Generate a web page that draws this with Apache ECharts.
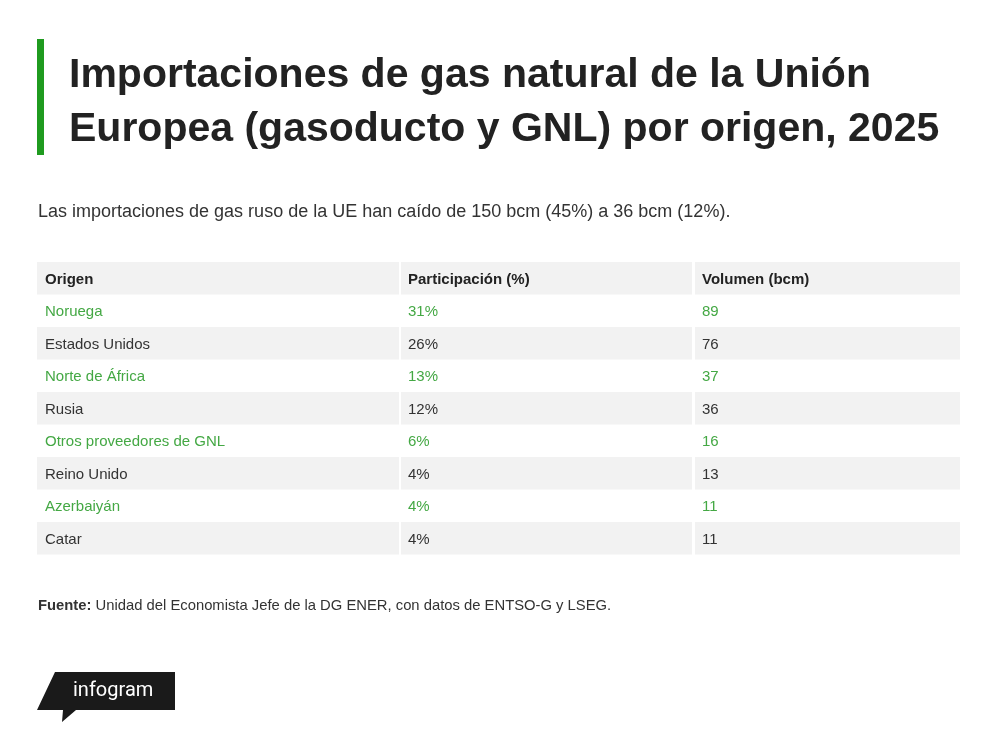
<!DOCTYPE html>
<html>
<head>
<meta charset="utf-8">
<script src="https://cdn.jsdelivr.net/npm/echarts@6/dist/echarts.min.js"></script>
<style>
  html, body { margin: 0; padding: 0; background: #fff; }
  #main { width: 1000px; height: 741px; }
</style>
</head>
<body>
<div id="main"></div>
<script>
// table contents
var columns = ['Origen', 'Participación (%)', 'Volumen (bcm)'];
var origins = ['Noruega', 'Estados Unidos', 'Norte de África', 'Rusia',
  'Otros proveedores de GNL', 'Reino Unido', 'Azerbaiyán', 'Catar'];
var shares = [31, 26, 13, 12, 6, 4, 4, 4];
var volumes = [89, 76, 37, 36, 16, 13, 11, 11];

// column edges on the hidden x axis (layout only)
var colStart = [0, 364, 658];
var colEnd = [362, 655, 923];
var textPad = [8, 7, 7];

var GRAY = '#f2f2f2';
var GREEN = '#44a844';
var FONT = 'Liberation Sans, Arial, sans-serif';

var rows = ['head'].concat(origins);
var cells = [];
columns.forEach(function (name, c) {
  cells.push({ value: [c, 0], text: name, kind: 'head' });
});
origins.forEach(function (name, i) {
  var kind = i % 2 === 0 ? 'green' : 'plain';
  var vals = [name, shares[i] + '%', String(volumes[i])];
  vals.forEach(function (t, c) {
    cells.push({ value: [c, i + 1], text: t, kind: kind });
  });
});

function renderCell(params, api) {
  var cell = cells[params.dataIndex];
  var c = api.value(0), r = api.value(1);
  var p0 = api.coord([colStart[c], r]);
  var p1 = api.coord([colEnd[c], r]);
  var h = api.size([0, 1])[1];
  var children = [];
  if (cell.kind !== 'green') {
    children.push({
      type: 'rect',
      shape: { x: p0[0], y: p0[1] - h / 2, width: p1[0] - p0[0], height: h },
      style: { fill: GRAY }
    });
  }
  children.push({
    type: 'text',
    style: {
      text: cell.text,
      x: p0[0] + textPad[c],
      y: p0[1] + 1.5,
      textAlign: 'left',
      textVerticalAlign: 'middle',
      font: (cell.kind === 'head' ? 'bold ' : '') + '15px ' + FONT,
      fill: cell.kind === 'green' ? GREEN : (cell.kind === 'head' ? '#222' : '#333')
    }
  });
  return { type: 'group', children: children };
}

var chart = echarts.init(document.getElementById('main'));
var option = {
  backgroundColor: '#fff',
  animation: false,
  grid: { left: 37, top: 262, width: 923, height: 292.5 },
  xAxis: { type: 'value', min: 0, max: 923, show: false },
  yAxis: { type: 'category', data: rows, inverse: true, show: false },
  series: [{
    type: 'custom',
    renderItem: renderCell,
    encode: { x: 0, y: 1 },
    data: cells.map(function (d) { return d.value; })
  }],
  graphic: [
    { type: 'rect', shape: { x: 37, y: 39, width: 7, height: 116 }, style: { fill: '#1f9b1f' } },
    {
      type: 'text',
      style: {
        text: 'Importaciones de gas natural de la Unión',
        x: 69, y: 76, textVerticalAlign: 'middle',
        font: 'bold 41px ' + FONT, fill: '#222'
      }
    },
    {
      type: 'text',
      style: {
        text: 'Europea (gasoducto y GNL) por origen, 2025',
        x: 69, y: 130, textVerticalAlign: 'middle',
        font: 'bold 41px ' + FONT, fill: '#222'
      }
    },
    {
      type: 'text',
      style: {
        text: 'Las importaciones de gas ruso de la UE han caído de 150 bcm (45%) a 36 bcm (12%).',
        x: 38, y: 212, textVerticalAlign: 'middle',
        font: '18px ' + FONT, fill: '#333'
      }
    },
    {
      type: 'text',
      style: {
        text: '{b|Fuente:} Unidad del Economista Jefe de la DG ENER, con datos de ENTSO-G y LSEG.',
        x: 38, y: 606, textVerticalAlign: 'middle',
        font: '14.8px ' + FONT, fill: '#333',
        rich: { b: { fontWeight: 'bold', fontSize: 14.8, fontFamily: FONT, color: '#222' } }
      }
    },
    {
      type: 'polygon',
      shape: { points: [[55, 672], [175, 672], [175, 710], [76, 710], [62, 722], [63, 710], [37, 710]] },
      style: { fill: '#1a1a1a' }
    },
    {
      type: 'text',
      style: {
        text: 'infogram',
        x: 73, y: 691, textVerticalAlign: 'middle',
        font: '20px Roboto, sans-serif', fill: '#fff'
      }
    }
  ]
};
chart.setOption(option);
</script>
</body>
</html>
